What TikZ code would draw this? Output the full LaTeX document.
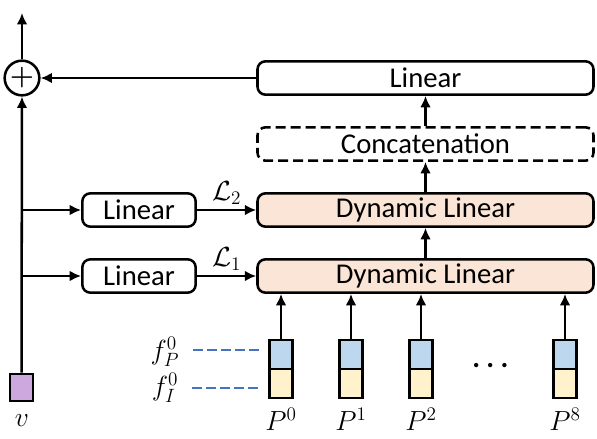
\documentclass[tikz,border=0pt]{standalone}
\usepackage{amsmath}
\usepackage{fontspec}
\setmainfont{Carlito}
\usepackage{xcolor}
\usetikzlibrary{arrows.meta}

\definecolor{dynfill}{HTML}{FBE5D6}
\definecolor{pfill}{HTML}{BDD7EE}
\definecolor{ifill}{HTML}{FFF2CC}
\definecolor{vfill}{HTML}{CCA8DF}
\definecolor{dashblue}{HTML}{4472C4}

\begin{document}
\begin{tikzpicture}[x=0.75pt,y=-0.75pt,line width=1.9pt,>={Latex[length=8.5pt,width=8pt]},
	font=\fontsize{21.5}{25}\selectfont,
	block/.style={draw,rounded corners=6pt,minimum height=25pt,inner sep=0pt},
	wide/.style={block,minimum width=252pt},
	small/.style={block,minimum width=85pt},
	half/.style={draw,minimum width=17pt,minimum height=21.75pt,inner sep=0pt}]
		\useasboundingbox (0,0) rectangle (597,439);
		\node[wide] (lin) at (425.5,78) {Linear};
		\node[wide,dash pattern=on 7.5pt off 3.75pt] (cat) at (425.5,144) {Concatenation};
		\node[wide,fill=dynfill] (dyn2) at (425.5,210) {Dynamic Linear};
		\node[wide,fill=dynfill] (dyn1) at (425.5,276) {Dynamic Linear};
		\node[small] (lin2) at (139,210) {Linear};
		\node[small] (lin1) at (139,276) {Linear};
		\node[draw,circle,minimum size=26pt,inner sep=0pt] (sum) at (22,78) {$\boldsymbol{+}$};
		\node[half,minimum height=20.25pt,fill=vfill] (v) at (21.5,387.5) {};
		\node (vlab) at (22,421) {$v$};
		\coordinate (out) at (22,13);
		\coordinate (b2) at (22,210);
		\coordinate (b1) at (22,276);
		%
		\foreach \x/\n in {281/0,351/1,421/2,565/8} {
			\node[half,fill=pfill] (p\n) at (\x,354.5) {};
			\node[half,fill=ifill] (i\n) at (\x,383.5) {};
			\node (l\n) at (\x,419) {$P^{\n}$};
			\draw[->] (p\n) -- (p\n |- dyn1.south);
		}
		\node (dots) at (493,366) {$\boldsymbol{\cdots}$};
		\node (fp) at (165,352) {$f_P^0$};
		\node (fi) at (165,388) {$f_I^0$};
		%
		\path[->]
		(sum) edge (out)
		(v) edge (sum)
		(lin) edge (sum)
		(b2) edge (lin2)
		(b1) edge (lin1)
		(lin2) edge node[above]{$\mathcal{L}_2$} (dyn2)
		(lin1) edge node[above]{$\mathcal{L}_1$} (dyn1)
		(dyn1) edge (dyn2)
		(dyn2) edge (cat)
		(cat) edge (lin);
		%
		\draw[dashblue,line width=1.4pt,dash pattern=on 7.5pt off 3pt,shorten >=7pt] ([xshift=6pt]fp.east |- 0,350) -- (p0.west |- 0,350);
		\draw[dashblue,line width=1.4pt,dash pattern=on 7.5pt off 3pt,shorten >=7pt] ([xshift=6pt]fi.east |- 0,388) -- (i0.west |- 0,388);
\end{tikzpicture}
\end{document}
